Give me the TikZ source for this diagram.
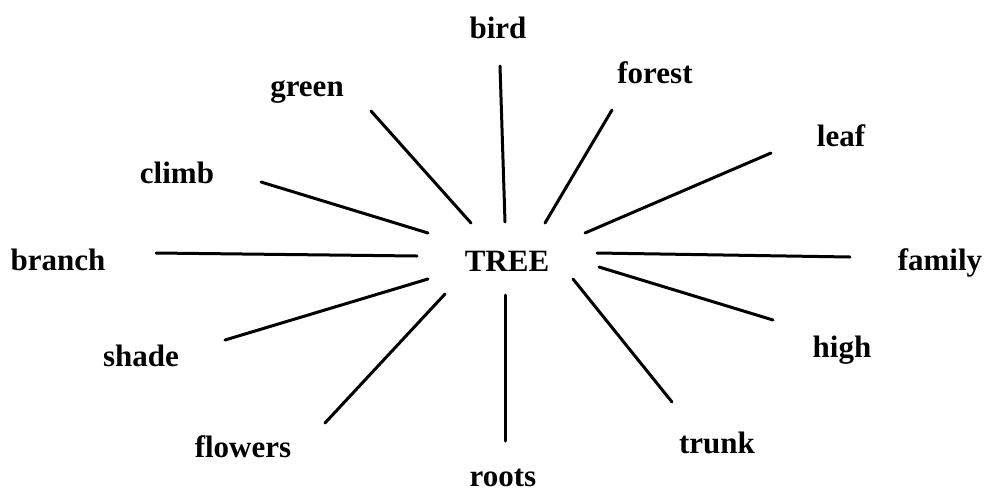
\documentclass[tikz,border=0pt]{standalone}
\usepackage{fontspec}
\setmainfont{Liberation Serif}
\begin{document}
\begin{tikzpicture}[x=1pt,y=-1pt,
  word/.style={anchor=base,inner sep=0pt,font=\fontsize{31}{36}\selectfont\bfseries},
  spoke/.style={line width=3pt,line cap=round}]
\useasboundingbox (0,0) rectangle (986,491);
\node[word] (tree) at (507,271) {TREE};
\node[word] (bird) at (498,38) {bird};
\node[word] (forest) at (655,83) {forest};
\node[word] (leaf) at (841,146) {leaf};
\node[word] (family) at (940,270) {family};
\node[word] (high) at (842,357) {high};
\node[word] (trunk) at (717,453) {trunk};
\node[word] (roots) at (503,486) {roots};
\node[word] (flowers) at (243,457) {flowers};
\node[word] (shade) at (141,366) {shade};
\node[word] (branch) at (58,270) {branch};
\node[word] (climb) at (177,183) {climb};
\node[word] (green) at (307,96) {green};
% spoke end points
\coordinate (birdO) at (500,66);   \coordinate (birdI) at (505,222);
\coordinate (greenO) at (371,111); \coordinate (greenI) at (471,223);
\coordinate (forestO) at (612,110);\coordinate (forestI) at (545,223);
\coordinate (leafO) at (771,153);  \coordinate (leafI) at (585,233);
\coordinate (familyO) at (850,257);\coordinate (familyI) at (597,253);
\coordinate (highO) at (773,320);  \coordinate (highI) at (599,267);
\coordinate (trunkO) at (672,402); \coordinate (trunkI) at (573,279);
\coordinate (rootsO) at (505,441); \coordinate (rootsI) at (505,295);
\coordinate (flowersO) at (325,423);\coordinate (flowersI) at (445,294);
\coordinate (shadeO) at (225,340); \coordinate (shadeI) at (428,279);
\coordinate (branchO) at (156,253);\coordinate (branchI) at (417,256);
\coordinate (climbO) at (261,182); \coordinate (climbI) at (428,233);
\foreach \w in {bird,green,forest,leaf,family,high,trunk,roots,flowers,shade,branch,climb}
  \draw[spoke] (\w O) -- (\w I);
\end{tikzpicture}
\end{document}
